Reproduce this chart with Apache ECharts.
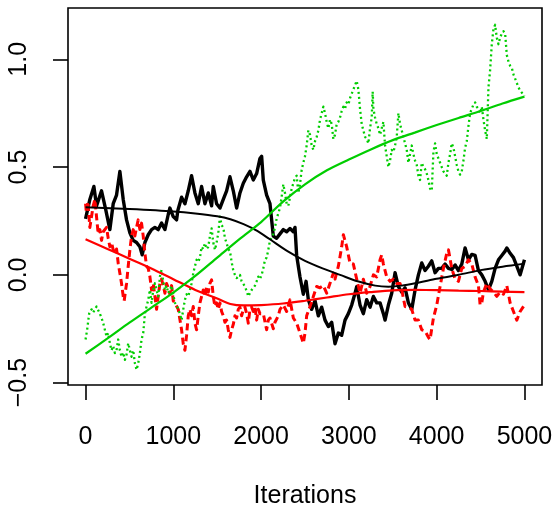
<!DOCTYPE html>
<html>
<head>
<meta charset="utf-8">
<script src="https://cdn.jsdelivr.net/npm/echarts@6/dist/echarts.min.js"></script>
<style>
html,body{margin:0;padding:0;background:#fff;}
#chart{width:556px;height:511px;}
</style>
</head>
<body>
<div id="chart"></div>
<script>
// Iteration / value pairs
const xTicks = [0, 1000, 2000, 3000, 4000, 5000];
const yTicks = [-0.5, 0.0, 0.5, 1.0];
const xLabel = 'Iterations';

const chainBlack = [[0,0.26],[49,0.35],[95,0.41],[125,0.32],[182,0.39],[231,0.30],[277,0.21],[315,0.33],[353,0.37],[391,0.48],[429,0.35],[467,0.255],[505,0.195],[543,0.16],[581,0.15],[619,0.13],[645,0.093],[676,0.15],[714,0.186],[752,0.21],[790,0.22],[828,0.21],[866,0.24],[904,0.21],[942,0.28],[961,0.31],[999,0.27],[1037,0.255],[1052,0.30],[1094,0.36],[1132,0.33],[1170,0.39],[1208,0.46],[1246,0.38],[1284,0.33],[1322,0.41],[1360,0.33],[1398,0.38],[1436,0.32],[1455,0.41],[1493,0.33],[1531,0.31],[1569,0.35],[1607,0.39],[1645,0.455],[1683,0.39],[1721,0.31],[1759,0.38],[1797,0.425],[1835,0.455],[1873,0.48],[1911,0.44],[1949,0.47],[1987,0.54],[2006,0.55],[2025,0.44],[2063,0.37],[2101,0.33],[2139,0.18],[2177,0.17],[2215,0.19],[2253,0.21],[2291,0.20],[2329,0.215],[2367,0.20],[2386,0.22],[2405,0.09],[2443,-0.01],[2481,-0.09],[2512,-0.03],[2538,-0.115],[2576,-0.16],[2614,-0.12],[2652,-0.19],[2690,-0.15],[2728,-0.21],[2766,-0.24],[2804,-0.22],[2842,-0.32],[2880,-0.27],[2918,-0.28],[2956,-0.21],[2994,-0.18],[3032,-0.14],[3070,-0.085],[3089,-0.055],[3127,-0.14],[3165,-0.18],[3203,-0.115],[3241,-0.15],[3279,-0.10],[3317,-0.13],[3355,-0.13],[3393,-0.18],[3412,-0.21],[3450,-0.14],[3488,-0.085],[3526,0.01],[3564,-0.055],[3602,-0.08],[3640,-0.06],[3678,-0.13],[3716,-0.16],[3754,-0.07],[3792,0.0],[3830,0.055],[3868,0.02],[3906,0.04],[3944,0.065],[3982,0.01],[4020,0.03],[4058,0.03],[4096,0.05],[4134,0.03],[4172,0.025],[4210,0.046],[4248,0.02],[4286,0.05],[4324,0.125],[4362,0.07],[4400,0.095],[4438,0.09],[4476,0.02],[4514,0.0],[4552,-0.03],[4590,-0.07],[4628,-0.03],[4666,0.03],[4704,0.07],[4742,0.09],[4780,0.11],[4799,0.125],[4837,0.10],[4875,0.08],[4913,0.04],[4951,0.0],[5000,0.07]];

const chainRed = [[0,0.33],[9,0.29],[26,0.34],[49,0.22],[87,0.32],[106,0.35],[125,0.27],[144,0.19],[163,0.21],[182,0.16],[201,0.20],[239,0.22],[258,0.17],[277,0.13],[296,0.15],[315,0.116],[334,0.10],[353,0.12],[372,0.054],[391,0.008],[410,-0.04],[429,-0.10],[440,-0.12],[467,-0.04],[486,0.04],[505,0.116],[524,0.18],[543,0.21],[562,0.18],[581,0.22],[600,0.255],[619,0.21],[638,0.24],[657,0.18],[676,0.10],[695,0.04],[714,0.03],[733,-0.008],[752,-0.07],[771,-0.04],[790,-0.10],[809,-0.16],[828,-0.10],[847,-0.04],[866,-0.02],[885,-0.05],[904,-0.085],[923,-0.04],[942,-0.06],[961,-0.09],[980,-0.05],[999,-0.12],[1018,-0.13],[1056,-0.16],[1094,-0.255],[1113,-0.32],[1132,-0.35],[1151,-0.28],[1170,-0.19],[1189,-0.16],[1208,-0.19],[1227,-0.147],[1246,-0.224],[1265,-0.255],[1284,-0.19],[1303,-0.13],[1322,-0.10],[1341,-0.07],[1360,-0.10],[1379,-0.054],[1398,-0.08],[1417,-0.04],[1436,-0.023],[1455,-0.10],[1474,-0.147],[1493,-0.13],[1512,-0.16],[1531,-0.13],[1550,-0.17],[1569,-0.19],[1588,-0.22],[1607,-0.21],[1626,-0.255],[1645,-0.29],[1664,-0.255],[1683,-0.23],[1702,-0.19],[1721,-0.20],[1740,-0.16],[1759,-0.15],[1778,-0.19],[1797,-0.16],[1816,-0.15],[1835,-0.18],[1854,-0.224],[1873,-0.16],[1892,-0.15],[1911,-0.17],[1930,-0.15],[1949,-0.21],[1968,-0.16],[1987,-0.18],[2025,-0.18],[2063,-0.255],[2082,-0.21],[2101,-0.20],[2139,-0.25],[2158,-0.22],[2196,-0.19],[2215,-0.16],[2253,-0.14],[2291,-0.17],[2329,-0.116],[2367,-0.20],[2405,-0.224],[2443,-0.27],[2481,-0.317],[2500,-0.27],[2519,-0.19],[2557,-0.147],[2595,-0.10],[2633,-0.054],[2671,-0.06],[2709,-0.05],[2747,-0.085],[2785,-0.039],[2823,0.008],[2842,-0.02],[2880,0.04],[2918,0.13],[2937,0.186],[2975,0.13],[3013,0.054],[3051,0.05],[3089,-0.02],[3127,-0.085],[3165,-0.02],[3203,-0.085],[3241,-0.054],[3279,0.0],[3317,-0.01],[3355,0.07],[3374,0.093],[3393,0.05],[3431,-0.01],[3469,-0.03],[3507,-0.02],[3545,-0.04],[3583,-0.04],[3602,-0.07],[3640,-0.147],[3678,-0.15],[3716,-0.16],[3754,-0.21],[3792,-0.21],[3830,-0.255],[3868,-0.26],[3906,-0.29],[3925,-0.30],[3963,-0.20],[4001,-0.14],[4039,-0.054],[4077,0.03],[4115,0.10],[4134,0.116],[4172,0.03],[4210,-0.02],[4248,-0.03],[4286,0.03],[4324,0.04],[4362,0.07],[4400,0.05],[4438,-0.01],[4476,-0.05],[4495,-0.14],[4514,-0.13],[4533,-0.08],[4571,-0.04],[4609,-0.065],[4647,-0.08],[4685,-0.10],[4723,-0.08],[4761,-0.09],[4799,-0.05],[4837,-0.13],[4875,-0.17],[4913,-0.21],[4951,-0.17],[5000,-0.14]];

const chainGreen = [[0,-0.30],[18,-0.255],[41,-0.18],[68,-0.16],[87,-0.175],[125,-0.147],[144,-0.14],[163,-0.18],[182,-0.20],[201,-0.224],[220,-0.255],[239,-0.286],[258,-0.27],[277,-0.317],[296,-0.35],[315,-0.33],[334,-0.363],[353,-0.35],[372,-0.30],[391,-0.35],[410,-0.38],[429,-0.36],[448,-0.394],[467,-0.37],[486,-0.317],[505,-0.35],[524,-0.38],[543,-0.35],[562,-0.41],[581,-0.44],[600,-0.41],[619,-0.363],[638,-0.30],[657,-0.27],[676,-0.18],[695,-0.147],[714,-0.116],[733,-0.07],[752,-0.13],[771,-0.07],[790,-0.039],[809,-0.07],[828,-0.10],[847,-0.008],[866,0.023],[885,-0.03],[904,-0.07],[923,-0.05],[942,-0.085],[961,-0.07],[980,-0.05],[999,-0.09],[1018,-0.13],[1037,-0.14],[1056,-0.16],[1075,-0.18],[1094,-0.21],[1113,-0.16],[1132,-0.116],[1151,-0.09],[1170,-0.10],[1189,-0.07],[1208,-0.04],[1227,0.008],[1246,0.04],[1265,0.07],[1284,0.06],[1303,0.08],[1322,0.13],[1341,0.12],[1360,0.147],[1379,0.12],[1398,0.13],[1417,0.18],[1436,0.216],[1455,0.15],[1474,0.116],[1493,0.15],[1512,0.193],[1531,0.27],[1550,0.23],[1569,0.22],[1588,0.17],[1607,0.147],[1626,0.12],[1645,0.11],[1664,0.06],[1683,0.02],[1702,0.0],[1721,-0.015],[1740,-0.01],[1759,0.0],[1778,-0.03],[1797,-0.025],[1816,-0.054],[1835,-0.075],[1854,-0.10],[1873,-0.085],[1892,-0.07],[1911,-0.06],[1930,-0.05],[1949,-0.03],[1968,-0.008],[1987,-0.02],[2006,0.0],[2025,0.03],[2044,0.07],[2063,0.08],[2082,0.116],[2101,0.16],[2120,0.17],[2139,0.19],[2158,0.22],[2177,0.26],[2196,0.286],[2215,0.31],[2234,0.363],[2253,0.42],[2272,0.38],[2291,0.33],[2310,0.32],[2329,0.36],[2348,0.40],[2367,0.425],[2386,0.45],[2405,0.46],[2424,0.38],[2443,0.42],[2462,0.487],[2481,0.52],[2500,0.55],[2519,0.60],[2538,0.67],[2557,0.65],[2576,0.60],[2595,0.58],[2614,0.62],[2633,0.64],[2652,0.67],[2671,0.72],[2690,0.75],[2709,0.78],[2728,0.75],[2747,0.71],[2766,0.68],[2785,0.72],[2804,0.70],[2823,0.63],[2842,0.65],[2861,0.70],[2880,0.71],[2899,0.73],[2918,0.76],[2937,0.78],[2956,0.77],[2975,0.80],[2994,0.79],[3013,0.82],[3032,0.84],[3051,0.86],[3070,0.88],[3089,0.90],[3108,0.86],[3127,0.77],[3146,0.70],[3165,0.67],[3184,0.64],[3203,0.63],[3222,0.61],[3241,0.68],[3260,0.73],[3271,0.85],[3279,0.77],[3298,0.73],[3317,0.70],[3336,0.68],[3355,0.65],[3374,0.68],[3393,0.71],[3412,0.60],[3431,0.55],[3450,0.50],[3469,0.53],[3488,0.58],[3507,0.57],[3526,0.60],[3545,0.64],[3564,0.75],[3583,0.70],[3602,0.67],[3621,0.64],[3640,0.61],[3659,0.58],[3678,0.52],[3697,0.56],[3716,0.60],[3735,0.56],[3754,0.53],[3773,0.51],[3792,0.46],[3811,0.44],[3830,0.52],[3849,0.50],[3868,0.49],[3887,0.47],[3906,0.44],[3925,0.40],[3944,0.39],[3963,0.57],[3982,0.61],[4001,0.56],[4020,0.54],[4039,0.52],[4058,0.50],[4077,0.48],[4096,0.47],[4115,0.46],[4134,0.52],[4153,0.56],[4172,0.61],[4191,0.59],[4210,0.55],[4229,0.51],[4248,0.48],[4267,0.465],[4286,0.48],[4305,0.53],[4324,0.59],[4343,0.62],[4362,0.69],[4381,0.75],[4400,0.77],[4419,0.79],[4438,0.80],[4457,0.78],[4476,0.77],[4495,0.75],[4514,0.78],[4533,0.72],[4552,0.67],[4571,0.63],[4590,0.87],[4609,0.95],[4628,1.07],[4647,1.14],[4666,1.16],[4685,1.10],[4704,1.07],[4723,1.10],[4742,1.12],[4761,1.13],[4780,1.12],[4799,1.02],[4818,0.99],[4837,0.97],[4856,0.96],[4875,0.93],[4894,0.93],[4913,0.89],[4932,0.87],[4951,0.855],[4970,0.86],[5000,0.83]];

const smoothBlack = [[0,0.314],[500,0.305],[1000,0.294],[1250,0.285],[1500,0.272],[1650,0.258],[1800,0.235],[1950,0.205],[2100,0.165],[2300,0.11],[2500,0.065],[2700,0.03],[2900,0.0],[3100,-0.03],[3300,-0.05],[3450,-0.055],[3600,-0.05],[3800,-0.035],[4000,-0.018],[4250,0.0],[4500,0.022],[4750,0.038],[5000,0.051]];
const smoothRed = [[0,0.165],[250,0.12],[500,0.075],[750,0.03],[1000,-0.02],[1250,-0.07],[1500,-0.11],[1650,-0.135],[1800,-0.142],[2000,-0.14],[2250,-0.133],[2500,-0.12],[2750,-0.105],[3000,-0.09],[3250,-0.08],[3500,-0.072],[3750,-0.07],[4000,-0.071],[4250,-0.073],[4500,-0.075],[4750,-0.078],[5000,-0.08]];
const smoothGreen = [[0,-0.366],[250,-0.295],[500,-0.222],[750,-0.152],[1000,-0.082],[1250,-0.005],[1500,0.08],[1750,0.165],[2000,0.245],[2250,0.34],[2500,0.42],[2750,0.485],[3000,0.535],[3250,0.582],[3500,0.625],[3750,0.66],[4000,0.695],[4250,0.728],[4500,0.76],[4750,0.795],[5000,0.827]];

const FONT = 'Liberation Sans, Arial, Helvetica, sans-serif';
const chart = echarts.init(document.getElementById('chart'), null, {renderer: 'canvas'});

function trace(data, color, type, width) {
  return {type: 'line', data: data, showSymbol: false, symbol: 'none', animation: false,
    sampling: false, lineStyle: {color: color, width: width, type: type, cap: 'butt', join: 'round'}};
}
function smoothLine(data, color, width) {
  return {type: 'line', data: data, showSymbol: false, symbol: 'none', animation: false,
    smooth: 0.3, lineStyle: {color: color, width: width, type: 'solid'}};
}

chart.setOption({
  backgroundColor: '#ffffff',
  animation: false,
  grid: {left: 68, right: 14, top: 8, bottom: 126, show: true, borderColor: '#000', borderWidth: 1.6, backgroundColor: 'transparent'},
  xAxis: {
    type: 'value', min: -200, max: 5200,
    axisLine: {show: false, onZero: false},
    splitLine: {show: false},
    axisTick: {show: true, inside: false, length: 15, customValues: xTicks, lineStyle: {color: '#000', width: 1.6}},
    axisLabel: {show: true, customValues: xTicks, fontSize: 25, color: '#000', fontFamily: FONT, margin: 40,
      formatter: v => String(v)}
  },
  yAxis: {
    type: 'value', min: -0.511, max: 1.238,
    axisLine: {show: false, onZero: false},
    splitLine: {show: false},
    axisTick: {show: true, inside: false, length: 15, customValues: yTicks, lineStyle: {color: '#000', width: 1.6}},
    axisLabel: {show: true, customValues: yTicks, fontSize: 25, color: '#000', fontFamily: FONT, margin: 36, rotate: 90,
      formatter: v => (v < 0 ? '\u2212' : '') + Math.abs(v).toFixed(1)}
  },
  graphic: [{type: 'text', x: 305, y: 496,
    style: {text: xLabel, fontSize: 25, fontFamily: FONT, fill: '#000', align: 'center', verticalAlign: 'middle', textAlign: 'center', textVerticalAlign: 'middle'}}],
  series: [
    trace(chainBlack, '#000000', 'solid', 3.4),
    trace(chainRed, '#ff0000', [7, 4], 3),
    trace(chainGreen, '#00cd00', [2, 3], 2.3),
    smoothLine(smoothBlack, '#000000', 2),
    smoothLine(smoothRed, '#ff0000', 2.2),
    smoothLine(smoothGreen, '#00cd00', 2.2)
  ]
});
</script>
</body>
</html>
